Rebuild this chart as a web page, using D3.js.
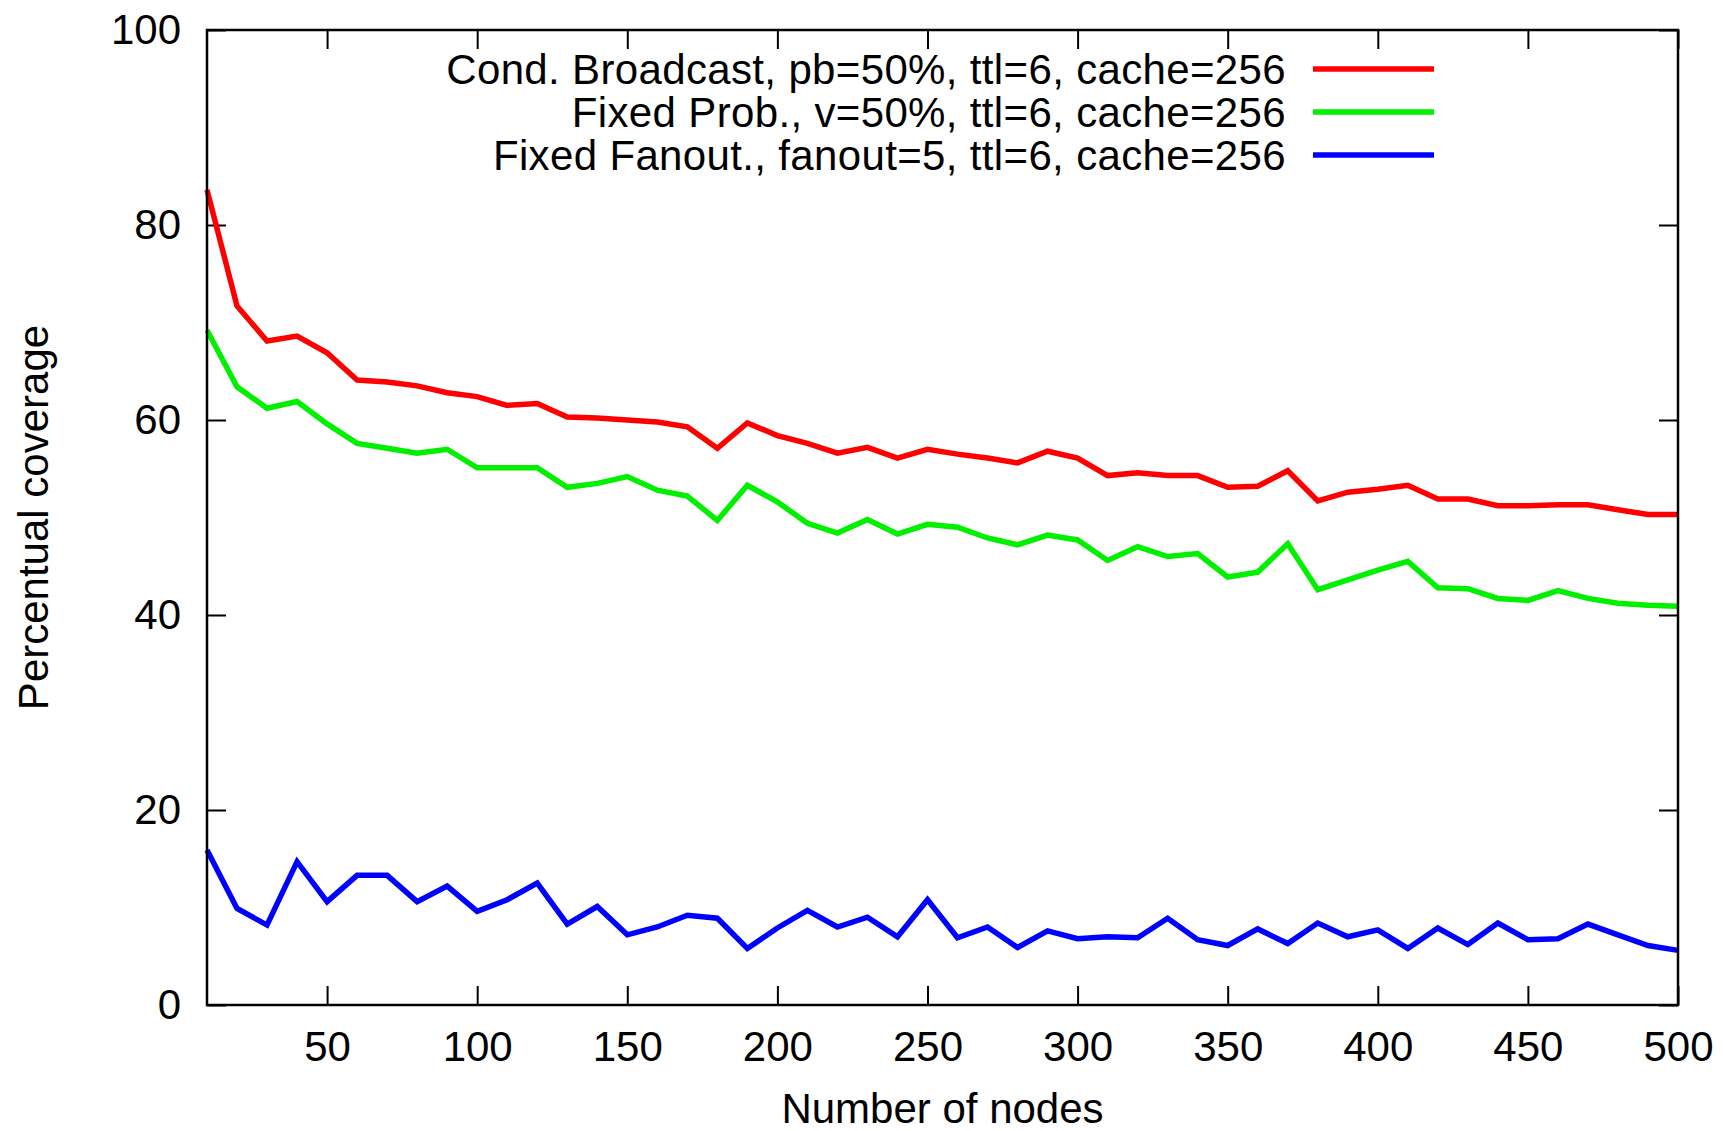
<!DOCTYPE html>
<html>
<head>
<meta charset="utf-8">
<script src="https://cdn.jsdelivr.net/npm/d3@7"></script>
<style>
  body { margin: 0; background: #fff; }
  svg { font-family: "Liberation Sans", Arial, sans-serif; }
</style>
</head>
<body>
<svg id="chart" width="1723" height="1131"></svg>
<script>
// number of nodes (x)
var nodes = [10, 20, 30, 40, 50, 60, 70, 80, 90, 100,
  110, 120, 130, 140, 150, 160, 170, 180, 190, 200,
  210, 220, 230, 240, 250, 260, 270, 280, 290, 300,
  310, 320, 330, 340, 350, 360, 370, 380, 390, 400,
  410, 420, 430, 440, 450, 460, 470, 480, 490, 500];

var condBroadcast = [83.6, 71.7, 68.1, 68.6, 66.9, 64.1, 63.9, 63.5, 62.8, 62.4,
  61.5, 61.7, 60.3, 60.2, 60.0, 59.8, 59.3, 57.1, 59.7, 58.4,
  57.6, 56.6, 57.2, 56.1, 57.0, 56.5, 56.1, 55.6, 56.8, 56.1,
  54.3, 54.6, 54.3, 54.3, 53.1, 53.2, 54.8, 51.7, 52.6, 52.9,
  53.3, 51.9, 51.9, 51.2, 51.2, 51.3, 51.3, 50.8, 50.3, 50.3];

var fixedProb = [69.2, 63.4, 61.2, 61.9, 59.6, 57.6, 57.1, 56.6, 57.0, 55.1,
  55.1, 55.1, 53.1, 53.5, 54.2, 52.8, 52.2, 49.7, 53.3, 51.6,
  49.4, 48.4, 49.8, 48.3, 49.3, 49.0, 47.9, 47.2, 48.2, 47.7,
  45.6, 47.0, 46.0, 46.3, 43.9, 44.4, 47.3, 42.6, 43.6, 44.6,
  45.5, 42.8, 42.7, 41.7, 41.5, 42.5, 41.7, 41.2, 41.0, 40.9];

var fixedFanout = [15.9, 9.9, 8.2, 14.7, 10.6, 13.3, 13.3, 10.6, 12.2, 9.6,
  10.8, 12.5, 8.3, 10.1, 7.2, 8.0, 9.2, 8.9, 5.8, 7.9,
  9.7, 8.0, 9.0, 7.0, 10.8, 6.9, 8.0, 5.9, 7.6, 6.8,
  7.0, 6.9, 8.9, 6.7, 6.1, 7.8, 6.3, 8.4, 7.0, 7.7,
  5.8, 7.9, 6.2, 8.4, 6.7, 6.8, 8.3, 7.2, 6.1, 5.6];

var seriesNames = [
  "Cond. Broadcast, pb=50%, ttl=6, cache=256",
  "Fixed Prob., v=50%, ttl=6, cache=256",
  "Fixed Fanout., fanout=5, ttl=6, cache=256"
];
var seriesColors = ["#ff0000", "#00f000", "#0000ff"];

var xTicks = [50, 100, 150, 200, 250, 300, 350, 400, 450, 500];
var yTicks = [0, 20, 40, 60, 80, 100];

var svg = d3.select("#chart");

var plotLeft = 207, plotRight = 1678, plotTop = 30, plotBottom = 1005;
var fontSize = 42;

var x = d3.scaleLinear().domain([10, 500]).range([plotLeft, plotRight]);
var y = d3.scaleLinear().domain([0, 100]).range([plotBottom, plotTop]);

var allSeries = [condBroadcast, fixedProb, fixedFanout].map(function(vals, i) {
  return {
    name: seriesNames[i],
    color: seriesColors[i],
    values: vals.map(function(v, j) { return { n: nodes[j], v: v }; })
  };
});

// ticks on all four sides, pointing inward
var tickLen = 19;
var axes = svg.append("g").attr("class", "axes");

function styleAxis(g) {
  g.select(".domain").remove();
  g.selectAll(".tick line").attr("stroke", "#000").attr("stroke-width", 2);
  g.selectAll(".tick text")
    .attr("font-size", fontSize)
    .attr("font-family", "Liberation Sans, Arial, sans-serif")
    .attr("fill", "#000");
}

axes.append("g")
  .attr("transform", "translate(0," + plotBottom + ")")
  .call(d3.axisBottom(x).tickValues(xTicks).tickSize(-tickLen).tickPadding(26))
  .call(styleAxis);

axes.append("g")
  .attr("transform", "translate(0," + plotTop + ")")
  .call(d3.axisTop(x).tickValues(xTicks).tickSize(-tickLen).tickFormat(""))
  .call(styleAxis);

axes.append("g")
  .attr("transform", "translate(" + plotLeft + ",0)")
  .call(d3.axisLeft(y).tickValues(yTicks).tickSize(-tickLen).tickPadding(26))
  .call(styleAxis);

axes.append("g")
  .attr("transform", "translate(" + plotRight + ",0)")
  .call(d3.axisRight(y).tickValues(yTicks).tickSize(-tickLen).tickFormat(""))
  .call(styleAxis);

// lines
var line = d3.line()
  .x(function(d) { return x(d.n); })
  .y(function(d) { return y(d.v); });

svg.append("g").selectAll("path")
  .data(allSeries)
  .enter().append("path")
  .attr("d", function(d) { return line(d.values); })
  .attr("fill", "none")
  .attr("stroke", function(d) { return d.color; })
  .attr("stroke-width", 5.5)
  .attr("stroke-linejoin", "miter");

// plot border
svg.append("rect")
  .attr("x", plotLeft)
  .attr("y", plotTop)
  .attr("width", plotRight - plotLeft)
  .attr("height", plotBottom - plotTop)
  .attr("fill", "none")
  .attr("stroke", "#000")
  .attr("stroke-width", 2.5);

// legend
var legend = svg.append("g").attr("class", "legend");
var rows = legend.selectAll("g")
  .data(allSeries)
  .enter().append("g")
  .attr("transform", function(d, i) { return "translate(0," + (69 + i * 43) + ")"; });

rows.append("text")
  .attr("x", 1286)
  .attr("dy", "0.36em")
  .attr("text-anchor", "end")
  .attr("font-size", fontSize)
  .attr("letter-spacing", 0.35)
  .text(function(d) { return d.name; });

rows.append("line")
  .attr("x1", 1313)
  .attr("x2", 1434)
  .attr("stroke", function(d) { return d.color; })
  .attr("stroke-width", 5.5);

// axis titles
svg.append("text")
  .attr("x", (plotLeft + plotRight) / 2)
  .attr("y", 1108)
  .attr("dy", "0.36em")
  .attr("text-anchor", "middle")
  .attr("font-size", fontSize)
  .text("Number of nodes");

svg.append("text")
  .attr("transform", "translate(33," + ((plotTop + plotBottom) / 2) + ") rotate(-90)")
  .attr("dy", "0.36em")
  .attr("text-anchor", "middle")
  .attr("font-size", fontSize)
  .text("Percentual coverage");
</script>
</body>
</html>
